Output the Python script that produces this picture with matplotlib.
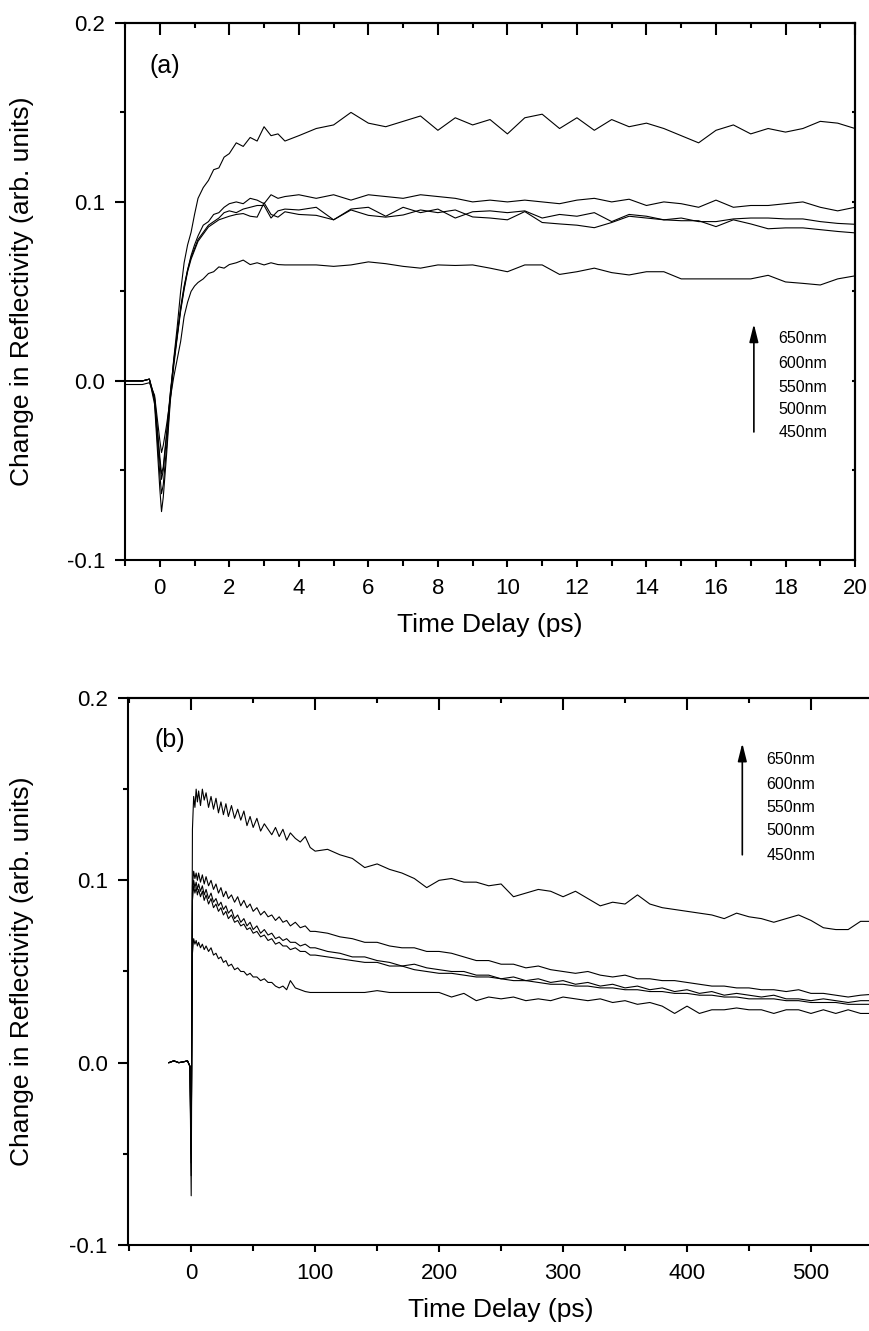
import matplotlib.pyplot as plt
from matplotlib.ticker import MultipleLocator, FormatStrFormatter

plt.rcParams['font.family'] = ['Liberation Sans', 'DejaVu Sans']
plt.rcParams['axes.unicode_minus'] = False

# ---------------- panel (a): short time window ----------------
t_a = [-1.0, -0.5, -0.3, -0.15,
       0.0, 0.05, 0.1, 0.2, 0.3, 0.4, 0.5, 0.6, 0.7, 0.8, 0.9, 1.0, 1.1, 1.25, 1.4, 1.55, 1.7, 1.85, 2.0,
       2.2, 2.4, 2.6, 2.8, 3.0, 3.2, 3.4, 3.6, 4.0,
       4.5, 5.0, 5.5, 6.0, 6.5, 7.0, 7.5, 8.0, 8.5, 9.0, 9.5, 10.0, 10.5, 11.0, 11.5, 12.0,
       12.5, 13.0, 13.5, 14.0, 14.5, 15.0, 15.5, 16.0, 16.5, 17.0, 17.5, 18.0, 18.5, 19.0, 19.5, 20.0]

a_650 = [0.000, 0.000, 0.001, -0.011,
         -0.052, -0.063, -0.058, -0.036, -0.010, 0.012, 0.030, 0.050, 0.066, 0.076, 0.083, 0.093, 0.102, 0.108, 0.112, 0.118, 0.119, 0.125, 0.127,
         0.133, 0.131, 0.136, 0.134, 0.142, 0.137, 0.138, 0.134, 0.137,
         0.141, 0.143, 0.150, 0.144, 0.142, 0.145, 0.148, 0.140, 0.147, 0.143, 0.146, 0.138, 0.147, 0.149, 0.141, 0.147,
         0.140, 0.146, 0.142, 0.144, 0.141, 0.137, 0.133, 0.140, 0.143, 0.138, 0.141, 0.139, 0.141, 0.145, 0.144, 0.141]
a_600 = [0.000, 0.000, 0.001, -0.010,
         -0.045, -0.055, -0.050, -0.030, -0.008, 0.010, 0.025, 0.040, 0.052, 0.062, 0.070, 0.076, 0.081, 0.087, 0.089, 0.093, 0.094, 0.097, 0.099,
         0.100, 0.099, 0.102, 0.101, 0.099, 0.104, 0.102, 0.103, 0.104,
         0.102, 0.104, 0.101, 0.104, 0.103, 0.102, 0.104, 0.103, 0.102, 0.100, 0.101, 0.100, 0.101, 0.100, 0.099, 0.101,
         0.102, 0.100, 0.1015, 0.098, 0.100, 0.099, 0.097, 0.101, 0.097, 0.098, 0.098, 0.099, 0.100, 0.097, 0.095, 0.097]
a_550 = [0.000, 0.000, 0.001, -0.009,
         -0.042, -0.052, -0.048, -0.028, -0.007, 0.011, 0.026, 0.041, 0.053, 0.062, 0.069, 0.074, 0.079, 0.083, 0.087, 0.089, 0.091, 0.094, 0.095,
         0.094, 0.096, 0.097, 0.098, 0.098, 0.091, 0.095, 0.096, 0.0955,
         0.097, 0.090, 0.096, 0.097, 0.092, 0.097, 0.094, 0.096, 0.091, 0.0945, 0.095, 0.094, 0.095, 0.091, 0.093, 0.092,
         0.094, 0.089, 0.093, 0.092, 0.090, 0.091, 0.089, 0.089, 0.0905, 0.091, 0.091, 0.0905, 0.0905, 0.089, 0.088, 0.0875]
a_500 = [0.000, 0.000, 0.001, -0.013,
         -0.060, -0.073, -0.065, -0.040, -0.012, 0.008, 0.024, 0.039, 0.051, 0.061, 0.068, 0.073, 0.078, 0.082, 0.086, 0.088, 0.090, 0.091, 0.092,
         0.093, 0.0935, 0.092, 0.0915, 0.0995, 0.093, 0.0915, 0.0945, 0.093,
         0.0925, 0.090, 0.0955, 0.0925, 0.0915, 0.0927, 0.0955, 0.094, 0.0955, 0.0916, 0.091, 0.090, 0.0946, 0.0885, 0.0877, 0.087,
         0.0856, 0.0885, 0.092, 0.091, 0.090, 0.0895, 0.0895, 0.0862, 0.090, 0.0877, 0.085, 0.0855, 0.0855, 0.0845, 0.0835, 0.0827]
a_450 = [-0.002, -0.002, -0.001, -0.008,
         -0.033, -0.040, -0.036, -0.024, -0.010, 0.002, 0.012, 0.022, 0.036, 0.044, 0.050, 0.053, 0.055, 0.057, 0.060, 0.061, 0.0637, 0.063, 0.065,
         0.066, 0.0675, 0.065, 0.066, 0.0648, 0.066, 0.065, 0.0648, 0.0648,
         0.0648, 0.064, 0.0648, 0.0665, 0.0655, 0.064, 0.063, 0.0648, 0.0645, 0.0648, 0.063, 0.061, 0.0648, 0.0648, 0.0595, 0.061,
         0.063, 0.0605, 0.0592, 0.061, 0.061, 0.057, 0.057, 0.057, 0.057, 0.057, 0.059, 0.0553, 0.0545, 0.0536, 0.057, 0.0587]

# ---------------- panel (b): long time window ----------------
t_b = [-18, -14, -10, -6, -3, -1, 0,
       1, 2, 3, 4, 5, 6, 7.5, 9, 10.5, 12,
       14, 16, 18, 20, 22, 24, 26, 28, 30,
       32.5, 35, 37.5, 40, 42.5, 45, 47.5, 50,
       53, 56, 59, 62, 65, 68, 71, 74, 77, 80,
       84, 88, 92, 96, 100,
       110, 120, 130, 140, 150, 160, 170, 180, 190, 200,
       210, 220, 230, 240, 250, 260, 270, 280, 290, 300,
       310, 320, 330, 340, 350, 360, 370, 380, 390, 400,
       410, 420, 430, 440, 450, 460, 470, 480, 490, 500,
       510, 520, 530, 540, 550]

b_650 = [0.000, 0.001, 0.000, 0.0005, 0.001, -0.002, -0.062,
         0.128, 0.146, 0.140, 0.150, 0.143, 0.149, 0.141, 0.150, 0.144, 0.148,
         0.140, 0.146, 0.139, 0.145, 0.137, 0.143, 0.136, 0.142, 0.135,
         0.141, 0.134, 0.139, 0.133, 0.138, 0.130, 0.135, 0.129,
         0.134, 0.127, 0.131, 0.128, 0.125, 0.129, 0.124, 0.128, 0.122, 0.126,
         0.123, 0.121, 0.124, 0.118, 0.116,
         0.117, 0.114, 0.112, 0.107, 0.109, 0.106, 0.104, 0.101, 0.096, 0.100,
         0.101, 0.099, 0.099, 0.097, 0.098, 0.091, 0.093, 0.095, 0.094, 0.091,
         0.094, 0.090, 0.086, 0.088, 0.087, 0.092, 0.087, 0.085, 0.084, 0.083,
         0.082, 0.081, 0.079, 0.082, 0.080, 0.079, 0.077, 0.079, 0.081, 0.078,
         0.074, 0.073, 0.073, 0.0775, 0.0775]
b_600 = [0.000, 0.001, 0.000, 0.0005, 0.001, -0.002, -0.055,
         0.097, 0.105, 0.101, 0.104, 0.100, 0.104, 0.099, 0.103, 0.098, 0.102,
         0.097, 0.100, 0.095, 0.098, 0.093, 0.096, 0.091, 0.094, 0.090,
         0.092, 0.088, 0.091, 0.086, 0.089, 0.085, 0.087, 0.083,
         0.085, 0.081, 0.083, 0.080, 0.081, 0.078, 0.080, 0.077, 0.078, 0.075,
         0.077, 0.074, 0.075, 0.072, 0.072,
         0.071, 0.069, 0.068, 0.066, 0.066, 0.064, 0.063, 0.063, 0.061, 0.061,
         0.060, 0.058, 0.056, 0.056, 0.054, 0.054, 0.052, 0.053, 0.051, 0.050,
         0.049, 0.050, 0.048, 0.047, 0.048, 0.046, 0.046, 0.045, 0.045, 0.044,
         0.043, 0.042, 0.042, 0.041, 0.041, 0.040, 0.040, 0.039, 0.040, 0.038,
         0.038, 0.037, 0.036, 0.037, 0.0375]
b_550 = [0.000, 0.001, 0.000, 0.0005, 0.001, -0.002, -0.050,
         0.093, 0.100, 0.096, 0.099, 0.095, 0.098, 0.094, 0.097, 0.092, 0.095,
         0.090, 0.093, 0.088, 0.090, 0.086, 0.088, 0.084, 0.086, 0.082,
         0.084, 0.079, 0.081, 0.077, 0.079, 0.075, 0.077, 0.073,
         0.075, 0.071, 0.073, 0.070, 0.071, 0.068, 0.069, 0.067, 0.068, 0.066,
         0.066, 0.064, 0.065, 0.063, 0.063,
         0.061, 0.060, 0.058, 0.058, 0.056, 0.055, 0.053, 0.054, 0.052, 0.051,
         0.050, 0.050, 0.048, 0.048, 0.046, 0.047, 0.045, 0.046, 0.044, 0.045,
         0.043, 0.044, 0.042, 0.043, 0.041, 0.042, 0.040, 0.041, 0.039, 0.040,
         0.038, 0.039, 0.037, 0.038, 0.037, 0.036, 0.037, 0.035, 0.035, 0.034,
         0.035, 0.034, 0.033, 0.034, 0.034]
b_500 = [0.000, 0.001, 0.000, 0.0005, 0.001, -0.002, -0.073,
         0.089, 0.097, 0.093, 0.096, 0.092, 0.095, 0.091, 0.094, 0.089, 0.092,
         0.087, 0.090, 0.085, 0.087, 0.083, 0.085, 0.081, 0.083, 0.079,
         0.081, 0.077, 0.078, 0.075, 0.076, 0.073, 0.074, 0.071,
         0.072, 0.069, 0.070, 0.067, 0.068, 0.065, 0.066, 0.064, 0.064, 0.062,
         0.063, 0.061, 0.061, 0.059, 0.059,
         0.058, 0.057, 0.056, 0.055, 0.055, 0.053, 0.053, 0.051, 0.050, 0.049,
         0.049, 0.048, 0.047, 0.047, 0.046, 0.045, 0.045, 0.044, 0.043, 0.043,
         0.042, 0.042, 0.041, 0.041, 0.040, 0.040, 0.039, 0.039, 0.038, 0.038,
         0.037, 0.037, 0.036, 0.036, 0.035, 0.035, 0.035, 0.034, 0.034, 0.033,
         0.033, 0.033, 0.032, 0.032, 0.032]
b_450 = [0.000, 0.001, 0.000, 0.0005, 0.001, -0.002, -0.040,
         0.060, 0.068, 0.065, 0.067, 0.064, 0.066, 0.063, 0.065, 0.062, 0.064,
         0.061, 0.063, 0.059, 0.060, 0.057, 0.058, 0.055, 0.056, 0.053,
         0.054, 0.051, 0.052, 0.050, 0.050, 0.048, 0.049, 0.047,
         0.047, 0.045, 0.046, 0.044, 0.044, 0.042, 0.041, 0.042, 0.040, 0.045,
         0.041, 0.040, 0.039, 0.0385, 0.0385,
         0.0385, 0.0385, 0.0385, 0.0385, 0.0395, 0.0385, 0.0385, 0.0385, 0.0385, 0.0385,
         0.036, 0.038, 0.034, 0.036, 0.035, 0.036, 0.034, 0.035, 0.034, 0.036,
         0.035, 0.034, 0.035, 0.033, 0.034, 0.032, 0.033, 0.031, 0.027, 0.031,
         0.027, 0.029, 0.029, 0.030, 0.029, 0.029, 0.027, 0.029, 0.029, 0.027,
         0.029, 0.027, 0.029, 0.027, 0.027]

wavelengths = ['650nm', '600nm', '550nm', '500nm', '450nm']
ylabel = 'Change in Reflectivity (arb. units)'
xlabel = 'Time Delay (ps)'


def style(ax, xmaj, xmin):
    for s in ax.spines.values():
        s.set_linewidth(1.5)
    ax.xaxis.set_major_locator(MultipleLocator(xmaj))
    ax.xaxis.set_minor_locator(MultipleLocator(xmin))
    ax.yaxis.set_major_locator(MultipleLocator(0.1))
    ax.yaxis.set_minor_locator(MultipleLocator(0.05))
    ax.yaxis.set_major_formatter(FormatStrFormatter('%.1f'))
    ax.tick_params(which='both', direction='out', width=1.5, labelsize=16)
    ax.tick_params(axis='x', which='major', length=5, pad=8)
    ax.tick_params(axis='x', which='minor', length=4)
    ax.tick_params(axis='y', which='major', length=7.5, pad=7)
    ax.tick_params(axis='y', which='minor', length=3.8)
    top = ax.secondary_xaxis('top')
    top.xaxis.set_major_locator(MultipleLocator(xmaj))
    top.xaxis.set_minor_locator(MultipleLocator(xmin))
    top.tick_params(which='both', direction='in', width=1.5, labeltop=False)
    top.tick_params(which='major', length=8.5)
    top.tick_params(which='minor', length=3.8)
    top.spines['top'].set_linewidth(1.5)
    ax.set_xlabel(xlabel, fontsize=19)
    ax.set_ylabel(ylabel, fontsize=19)
    ax.set_ylim(-0.1, 0.2)


fig = plt.figure(figsize=(8.7, 13.31), dpi=100)

# (a)
ax1 = fig.add_axes([0.1437, 0.5793, 0.8391, 0.4035])
for y in [a_650, a_600, a_550, a_500, a_450]:
    ax1.plot(t_a, y, color='black', lw=0.8)
ax1.set_xlim(-1, 20)
style(ax1, 2, 1)
right = ax1.secondary_yaxis('right')
right.yaxis.set_major_locator(MultipleLocator(0.05))
right.tick_params(direction='in', length=2.5, width=1.5, labelright=False)
right.spines['right'].set_linewidth(1.5)
ax1.xaxis.set_label_coords(0.5, -0.099)
ax1.yaxis.set_label_coords(-0.125, 0.5)
ax1.text(0.033, 0.92, '(a)', transform=ax1.transAxes, fontsize=18, va='center')
ax1.annotate('', xy=(17.09, 0.0318), xytext=(17.09, -0.0285),
             arrowprops=dict(arrowstyle='-|>,head_length=0.6,head_width=0.15',
                             color='black', lw=1.2, mutation_scale=18, shrinkA=0, shrinkB=0))
for name, yy in zip(wavelengths, [0.0235, 0.0095, -0.0034, -0.0162, -0.029]):
    ax1.text(17.8, yy, name, fontsize=11.5, va='center', ha='left')

# (b)
ax2 = fig.add_axes([0.1471, 0.0646, 0.8563, 0.4110])
for y in [b_650, b_600, b_550, b_500, b_450]:
    ax2.plot(t_b, y, color='black', lw=0.8)
ax2.set_xlim(-51, 550)
style(ax2, 100, 50)
ax2.xaxis.set_label_coords(0.5, -0.097)
ax2.yaxis.set_label_coords(-0.126, 0.5)
ax2.text(0.036, 0.923, '(b)', transform=ax2.transAxes, fontsize=18, va='center')
ax2.annotate('', xy=(444.6, 0.1752), xytext=(444.6, 0.114),
             arrowprops=dict(arrowstyle='-|>,head_length=0.6,head_width=0.15',
                             color='black', lw=1.2, mutation_scale=18, shrinkA=0, shrinkB=0))
for name, yy in zip(wavelengths, [0.1664, 0.1527, 0.1399, 0.1271, 0.1134]):
    ax2.text(464, yy, name, fontsize=11.5, va='center', ha='left')

fig.savefig('out.png', dpi=100)
